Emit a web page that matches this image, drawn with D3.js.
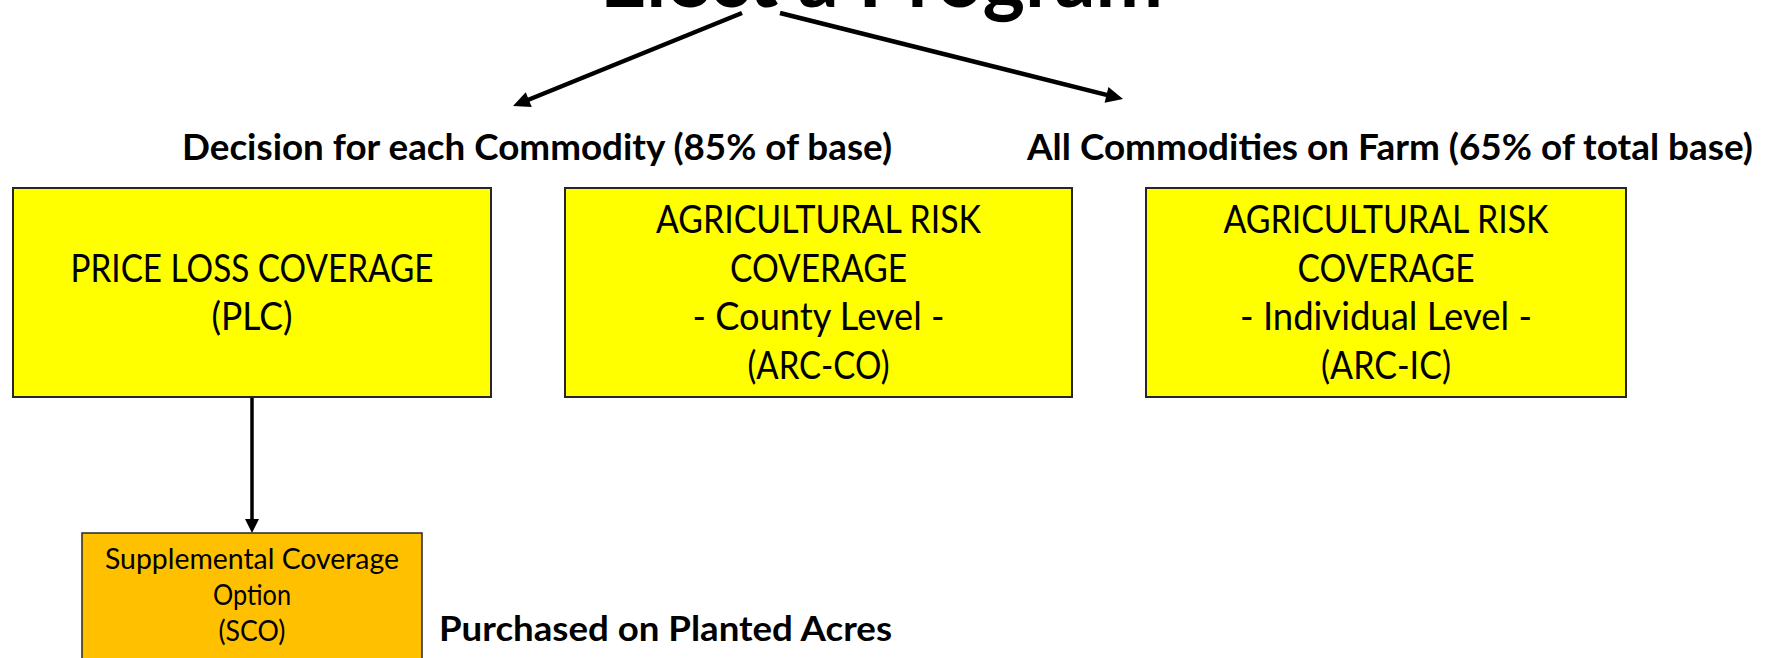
<!DOCTYPE html>
<html>
<head>
<meta charset="utf-8">
<script src="https://cdn.jsdelivr.net/npm/d3@7"></script>
<style>
  body { margin: 0; background: #fff; overflow: hidden; }
  text { font-family: Lato, "Open Sans", sans-serif; fill: #000; }
</style>
</head>
<body>
<script>
// diagram content
const titleText = "Elect a Program";
const headings = [
  "Decision for each Commodity (85% of base)",
  "All Commodities on Farm (65% of total base)"
];
const programIds = ["PLC", "ARC-CO", "ARC-IC"];
const programLines = [
  ["PRICE LOSS COVERAGE", "(PLC)"],
  ["AGRICULTURAL RISK", "COVERAGE", "- County Level -", "(ARC-CO)"],
  ["AGRICULTURAL RISK", "COVERAGE", "- Individual Level -", "(ARC-IC)"]
];
const scoLines = ["Supplemental Coverage", "Option", "(SCO)"];
const scoNote = "Purchased on Planted Acres";

// layout (pixels)
const W = 1779, H = 658;
const boxPos = [
  { x0: 13, x1: 491, y0: 188, y1: 397 },
  { x0: 565, x1: 1072, y0: 188, y1: 397 },
  { x0: 1146, x1: 1626, y0: 188, y1: 397 }
];
const scoPos = { x0: 82, x1: 422, y0: 533, y1: 700 };
const headingPos = [
  { x0: 182, x1: 892, y: 160 },
  { x0: 1027, x1: 1753, y: 160 }
];
// measured text widths in the reference
const textWidth = {
  "PRICE LOSS COVERAGE": 363,
  "(PLC)": 81,
  "AGRICULTURAL RISK": 325,
  "COVERAGE": 177,
  "- County Level -": 252,
  "(ARC-CO)": 142,
  "- Individual Level -": 292,
  "(ARC-IC)": 130,
  "Supplemental Coverage": 294,
  "Option": 78,
  "(SCO)": 67
};

const svg = d3.select("body").append("svg")
  .attr("width", W)
  .attr("height", H);

// title, mostly cut off at the top as in the source slide
svg.append("text")
  .attr("x", 600)
  .attr("y", 7)
  .attr("font-size", 82)
  .attr("font-weight", 700)
  .attr("textLength", 563)
  .attr("lengthAdjust", "spacingAndGlyphs")
  .text(titleText);

const drawArrow = (g, x1, y1, x2, y2, w, hl, hw) => {
  const dx = x2 - x1, dy = y2 - y1, L = Math.hypot(dx, dy);
  const ux = dx / L, uy = dy / L;
  const bx = x2 - ux * hl, by = y2 - uy * hl;
  g.append("line")
    .attr("x1", x1).attr("y1", y1)
    .attr("x2", bx + ux).attr("y2", by + uy)
    .attr("stroke", "#000")
    .attr("stroke-width", w);
  g.append("path")
    .attr("d", `M${x2},${y2}L${bx - uy * hw / 2},${by + ux * hw / 2}L${bx + uy * hw / 2},${by - ux * hw / 2}Z`)
    .attr("fill", "#000");
};

const arrows = svg.append("g");
drawArrow(arrows, 742, 13, 513, 106, 4.5, 17, 16);
drawArrow(arrows, 780, 13, 1123, 99, 4.5, 17, 16);
const plcCx = (boxPos[0].x0 + boxPos[0].x1) / 2;
drawArrow(arrows, plcCx, boxPos[0].y1, plcCx, scoPos.y0, 3.5, 14, 14);

// headings
svg.selectAll("text.heading")
  .data(headings)
  .enter()
  .append("text")
  .attr("class", "heading")
  .attr("x", (d, i) => headingPos[i].x0)
  .attr("y", (d, i) => headingPos[i].y)
  .attr("font-size", 37)
  .attr("font-weight", 700)
  .attr("textLength", (d, i) => headingPos[i].x1 - headingPos[i].x0)
  .attr("lengthAdjust", "spacingAndGlyphs")
  .text((d) => d);

// program boxes
const lineGap = 48.5;
const boxes = svg.selectAll("g.box")
  .data(programIds)
  .enter()
  .append("g")
  .attr("class", "box");

boxes.append("rect")
  .attr("x", (d, i) => boxPos[i].x0)
  .attr("y", (d, i) => boxPos[i].y0)
  .attr("width", (d, i) => boxPos[i].x1 - boxPos[i].x0)
  .attr("height", (d, i) => boxPos[i].y1 - boxPos[i].y0)
  .attr("fill", "#ffff00")
  .attr("stroke", "#262626")
  .attr("stroke-width", 2);

boxes.each(function (d, i) {
  const b = boxPos[i];
  const lines = programLines[i];
  const cy = (b.y0 + b.y1) / 2;
  const row = d3.scaleLinear()
    .domain([0, lines.length - 1])
    .range([cy - (lines.length - 1) / 2 * lineGap, cy + (lines.length - 1) / 2 * lineGap]);
  d3.select(this).selectAll("text")
    .data(lines)
    .enter()
    .append("text")
    .attr("x", (b.x0 + b.x1) / 2)
    .attr("y", (t, j) => row(j))
    .attr("dy", "0.36em")
    .attr("text-anchor", "middle")
    .attr("font-size", 38)
    .attr("textLength", (t) => textWidth[t])
    .attr("lengthAdjust", "spacingAndGlyphs")
    .text((t) => t);
});

// SCO box
const sco = svg.append("g");
sco.append("rect")
  .attr("x", scoPos.x0)
  .attr("y", scoPos.y0)
  .attr("width", scoPos.x1 - scoPos.x0)
  .attr("height", scoPos.y1 - scoPos.y0)
  .attr("fill", "#ffc000")
  .attr("stroke", "#262626")
  .attr("stroke-width", 1.5);

const scoRow = d3.scaleLinear().domain([0, scoLines.length - 1]).range([569, 641]);
sco.selectAll("text")
  .data(scoLines)
  .enter()
  .append("text")
  .attr("x", (scoPos.x0 + scoPos.x1) / 2)
  .attr("y", (t, j) => scoRow(j))
  .attr("text-anchor", "middle")
  .attr("font-size", 28)
  .attr("textLength", (t) => textWidth[t])
  .attr("lengthAdjust", "spacingAndGlyphs")
  .text((t) => t);

svg.append("text")
  .attr("x", 439)
  .attr("y", 641)
  .attr("font-size", 35)
  .attr("font-weight", 700)
  .attr("textLength", 453)
  .attr("lengthAdjust", "spacingAndGlyphs")
  .text(scoNote);
</script>
</body>
</html>
